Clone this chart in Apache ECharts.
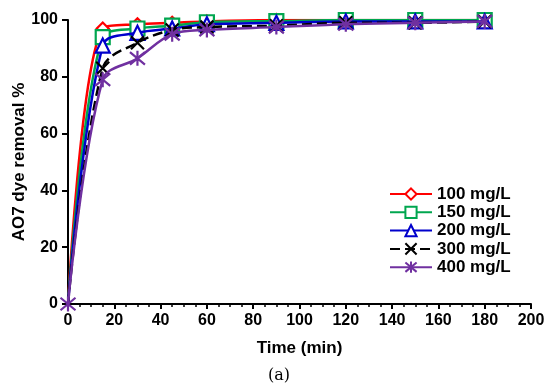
<!DOCTYPE html>
<html><head><meta charset="utf-8">
<script src="https://cdn.jsdelivr.net/npm/echarts@6/dist/echarts.min.js"></script>
<style>html,body{margin:0;padding:0;background:#fff}#c{width:550px;height:392px}</style>
</head><body><div id="c"></div>
<script>
const times = [0, 15, 30, 45, 60, 90, 120, 150, 180];
const seriesNames = ['100 mg/L', '150 mg/L', '200 mg/L', '300 mg/L', '400 mg/L'];
const s100 = [0, 97, 98.5, 99, 99.5, 100, 100, 100, 100];
const s150 = [0, 94, 97, 98, 99.2, 99.6, 100, 100, 100];
const s200 = [0, 91, 95.5, 97, 98.5, 99, 99.5, 99.5, 99.5];
const s300 = [0, 83, 92, 96.5, 97.5, 98, 99, 99, 99.5];
const s400 = [0, 79, 86.5, 95, 96.5, 97.5, 98.5, 99, 99.5];
const xTicks = [0, 20, 40, 60, 80, 100, 120, 140, 160, 180, 200];
const yTicks = [0, 20, 40, 60, 80, 100];

const colors = ['#ff0000', '#00a64f', '#0000cc', '#000000', '#7030a0'];
const symbols = ['diamond', 'rect', 'triangle',
  'path://M0 0L10 10M10 0L0 10',
  'path://M0 0L10 10M10 0L0 10M5 -1L5 11'];
const sizes = [12, 14, 14, 13, 15];
const datas = [s100, s150, s200, s300, s400];

const series = datas.map((d, i) => ({
  name: seriesNames[i],
  type: 'line',
  smooth: 0.35,
  data: times.map((t, j) => (j === 0 && i < 4) ? { value: [t, d[j]], symbol: 'none' } : [t, d[j]]),
  symbol: symbols[i],
  symbolSize: sizes[i],
  showAllSymbol: true,
  lineStyle: { color: colors[i], width: 2.5, type: i === 3 ? [10, 5] : 'solid' },
  itemStyle: { color: i >= 3 ? colors[i] : '#fff', borderColor: colors[i], borderWidth: 2.2 },
  emphasis: { disabled: true },
  z: 2 + i
}));

const chart = echarts.init(document.getElementById('c'), null, { renderer: 'canvas' });
chart.setOption({
  animation: false,
  backgroundColor: '#fff',
  grid: { left: 68, right: 19, top: 20, bottom: 88, containLabel: false, outerBoundsMode: 'none' },
  xAxis: {
    type: 'value', min: xTicks[0], max: xTicks[xTicks.length - 1], interval: 20,
    name: 'Time (min)', nameLocation: 'middle', nameGap: 36,
    nameTextStyle: { fontFamily: 'Liberation Sans', fontWeight: 'bold', fontSize: 17, color: '#000' },
    axisLine: { show: true, onZero: false, lineStyle: { color: '#000', width: 2 } },
    axisTick: { show: true, inside: false, length: 5, lineStyle: { color: '#000', width: 2 } },
    minorTick: { show: true, splitNumber: 4, length: 3, lineStyle: { color: '#000', width: 1.5 } },
    axisLabel: { fontFamily: 'Liberation Sans', fontWeight: 'bold', fontSize: 16, color: '#000', margin: 9 },
    splitLine: { show: false }
  },
  yAxis: {
    type: 'value', min: yTicks[0], max: yTicks[yTicks.length - 1], interval: 20,
    name: 'AO7 dye removal %', nameLocation: 'middle', nameGap: 40, nameMoveOverlap: false,
    nameTextStyle: { fontFamily: 'Liberation Sans', fontWeight: 'bold', fontSize: 17, color: '#000' },
    axisLine: { show: true, lineStyle: { color: '#000', width: 2 } },
    axisTick: { show: true, inside: false, length: 6, lineStyle: { color: '#000', width: 2 } },
    axisLabel: { fontFamily: 'Liberation Sans', fontWeight: 'bold', fontSize: 16, color: '#000', margin: 10 },
    splitLine: { show: false }
  },
  legend: {
    data: seriesNames,
    orient: 'vertical',
    left: 384, top: 180,
    itemWidth: 42, itemHeight: 14, itemGap: 0.3,
    textStyle: { fontFamily: 'Liberation Sans', fontWeight: 'bold', fontSize: 17, lineHeight: 18, color: '#000' }
  },
  graphic: [{
    type: 'text', left: 268, top: 368,
    style: { text: '(a)', font: '16px "DejaVu Serif", serif', fill: '#000' }
  }],
  series: series
});
</script></body></html>
